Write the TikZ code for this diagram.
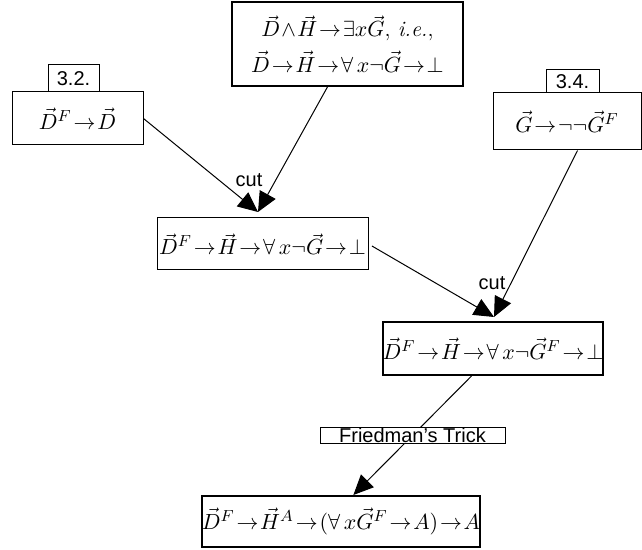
\documentclass[tikz,border=0pt]{standalone}
\usepackage{fontspec}
\setsansfont{Liberation Sans}
\usetikzlibrary{arrows.meta}

\tikzset{
  proof/.style={draw, line width=0.5pt, fill=white, inner sep=0pt, font=\fontsize{11}{13.6}\selectfont,
    execute at begin node={\thickmuskip=1.5mu\medmuskip=1mu}},
  mainproof/.style={proof, line width=1pt},
  tag/.style={draw, line width=0.5pt, fill=white, inner sep=0pt, font=\sffamily},
  infer/.style={line width=0.5pt, -{Triangle[length=10pt,width=9pt]}},
}

\begin{document}
\begin{tikzpicture}[x=0.5pt, y=-0.5pt]
    \useasboundingbox (0,0) rectangle (642,550);
    % Goal
    \node[mainproof, align=center, minimum width=115.5pt, minimum height=42pt] (goal) at (347.5,44)
        {$\vec D\wedge\vec H\to\exists x\vec G$, \textit{i.e.},\\[4pt] $\vec D\to\vec H\to\forall\,x\neg\vec G\to\bot$};
    % Lemma 3.2.
    \node[proof, minimum width=65.5pt, minimum height=26.5pt] (lemD) at (77.5,118.5) {$\vec D^F\to\vec D$};
    \node[tag, minimum width=25.5pt, minimum height=13.5pt] (tagD) at (73.5,78.5) {3.2.};
    % Lemma 3.4.
    \node[proof, minimum width=74pt, minimum height=28.5pt] (lemG) at (567,121.5) {$\vec G\to\neg\neg\vec G^F$};
    \node[tag, minimum width=26.5pt, minimum height=11.5pt] (tagG) at (572.5,81.5) {3.4.};
    % First cut
    \node[proof, minimum width=105.5pt, minimum height=26pt] (stepA) at (262.5,244)
        {$\vec D^F\to\vec H\to\forall\,x\neg\vec G\to\bot$};
    \coordinate (inA) at (258,212);
    \node[font=\sffamily] (cutA) at (249,180) {cut};
    \draw[infer] (lemD.east) -- (inA);
    \draw[infer] (goal.245) -- (inA);
    % Second cut
    \node[mainproof, minimum width=105pt, minimum height=26.5pt] (stepB) at (493,348.5)
        {$\vec D^F\to\vec H\to\forall\,x\neg\vec G^F\to\bot$};
    \coordinate (inB) at (494,317);
    \node[font=\sffamily] (cutB) at (492,283) {cut};
    \draw[infer, shorten <=2pt] (stepA.east) -- (inB);
    \draw[infer] (lemG.290) -- (inB);
    % Friedman's trick
    \node[mainproof, minimum width=136pt, minimum height=25.5pt] (result) at (341,521.5)
        {$\vec D^F\to\vec H^A\to(\forall\,x\vec G^F\to A)\to A$};
    \draw[infer] (stepB.232) -- (result.65);
    \node[tag, minimum width=92.5pt, minimum height=8pt] (trick) at (412.5,435) {Friedman's Trick};
\end{tikzpicture}
\end{document}
